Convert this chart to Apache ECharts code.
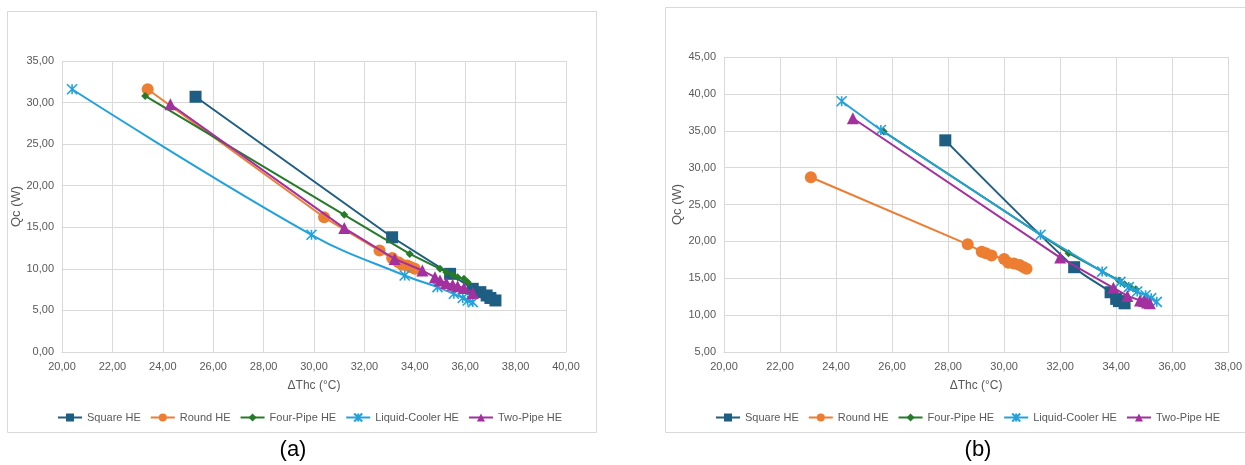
<!DOCTYPE html>
<html>
<head>
<meta charset="utf-8">
<script src="https://cdn.jsdelivr.net/npm/echarts@6/dist/echarts.min.js"></script>
<style>html,body{margin:0;padding:0;background:#fff}#c{width:1245px;height:465px}</style>
</head>
<body>
<div id="c"></div>
<script>
// ---- Data: panel (a) ----
const seriesNames = ['Square HE', 'Round HE', 'Four-Pipe HE', 'Liquid-Cooler HE', 'Two-Pipe HE'];
const aSquare = [[25.3,30.7],[33.1,13.8],[35.4,9.4],[36.3,7.6],[36.6,7.2],[36.85,6.8],[37.0,6.5],[37.2,6.2]];
const aRound = [[23.4,31.6],[30.4,16.2],[32.6,12.2],[33.1,11.3],[33.35,10.8],[33.5,10.5],[33.7,10.4],[33.85,10.2],[34.0,10.0]];
const aFourPipe = [[23.3,30.8],[31.2,16.5],[33.8,11.8],[35.0,10.0],[35.25,9.6],[35.5,9.3],[35.7,9.0],[35.95,8.8],[36.1,8.4]];
const aLiquid = [[20.4,31.6],[29.9,14.1],[33.6,9.2],[34.9,7.8],[35.55,7.0],[35.9,6.5],[36.1,6.2],[36.3,6.0]];
const aTwoPipe = [[24.3,29.8],[31.2,14.9],[33.2,11.2],[34.3,9.8],[34.8,9.0],[35.0,8.6],[35.25,8.3],[35.5,8.1],[35.7,7.9],[35.95,7.7],[36.3,7.1]];
// ---- Data: panel (b) ----
const bSquare = [[27.9,33.7],[32.5,16.5],[33.8,13.1],[34.0,12.2],[34.1,11.9],[34.3,11.6]];
const bRound = [[23.1,28.7],[28.7,19.6],[29.2,18.6],[29.35,18.4],[29.55,18.1],[30.0,17.6],[30.15,17.1],[30.35,17.0],[30.55,16.8],[30.7,16.5],[30.8,16.3]];
const bFourPipe = [[25.7,34.9],[32.3,18.4],[34.1,14.7],[34.3,14.2],[34.5,13.8],[34.7,13.5]];
const bLiquid = [[24.2,39.0],[25.6,35.1],[31.3,20.9],[33.5,15.9],[34.15,14.5],[34.45,13.8],[34.75,13.2],[35.05,12.7],[35.25,12.3],[35.45,11.8]];
const bTwoPipe = [[24.6,36.7],[32.0,17.8],[33.9,13.7],[34.4,12.6],[34.85,12.0],[35.0,11.9],[35.1,11.7],[35.2,11.6]];
// ---- Axis ticks ----
const aX = {min: 20, max: 40, interval: 2};
const aY = {min: 0, max: 35, interval: 5};
const bX = {min: 20, max: 38, interval: 2};
const bY = {min: 5, max: 45, interval: 5};
const xTitle = 'ΔThc (°C)';
const yTitle = 'Qc (W)';

const colors = ['#1F5E83', '#ED7D31', '#267A2A', '#22A2DC', '#A3309E'];
const asterisk = 'path://M0,0L10,10M10,0L0,10M5,0L5,10';
const symbols = ['rect', 'circle', 'diamond', asterisk, 'triangle'];
const sizes = [12, 12, 8, 10, 12];
const font = 'Liberation Sans, Arial, sans-serif';
const fmt = v => v.toFixed(2).replace('.', ',');

function mkSeries(data, i, gi, smooth) {
  const s = {
    name: seriesNames[i], type: 'line', xAxisIndex: gi, yAxisIndex: gi,
    data: data, symbol: symbols[i], symbolSize: sizes[i], smooth: smooth || false,
    lineStyle: {color: colors[i], width: 2}, itemStyle: {color: colors[i]},
    emphasis: {disabled: true}, animation: false, z: 2 + i
  };
  if (i === 3) s.itemStyle = {color: colors[i], borderColor: colors[i], borderWidth: 1.6};
  return s;
}
function xAxis(gi, t) {
  return {type: 'value', gridIndex: gi, min: t.min, max: t.max, interval: t.interval,
    name: xTitle, nameLocation: 'middle', nameGap: 28,
    nameTextStyle: {color: '#595959', fontSize: 12, fontFamily: font},
    axisLine: {show: true, onZero: false, lineStyle: {color: '#D9D9D9'}}, axisTick: {show: false},
    axisLabel: {color: '#595959', fontSize: 11, fontFamily: font, formatter: fmt, margin: 9},
    splitLine: {show: true, lineStyle: {color: '#D9D9D9', width: 1}}};
}
function yAxis(gi, t, gap) {
  return {type: 'value', gridIndex: gi, min: t.min, max: t.max, interval: t.interval,
    name: yTitle, nameLocation: 'middle', nameGap: gap, nameRotate: 90,
    nameTextStyle: {color: '#595959', fontSize: 13, fontFamily: font},
    axisLine: {show: false}, axisTick: {show: false},
    axisLabel: {color: '#595959', fontSize: 11, fontFamily: font, formatter: fmt, margin: 8},
    splitLine: {show: true, lineStyle: {color: '#D9D9D9', width: 1}}};
}
const legendBase = {orient: 'horizontal', itemWidth: 24, itemHeight: 10, itemGap: 9,
  textStyle: {color: '#595959', fontSize: 11, fontFamily: font}, data: seriesNames, selectedMode: false};

const chart = echarts.init(document.getElementById('c'), null, {renderer: 'canvas'});
chart.setOption({
  backgroundColor: '#fff',
  animation: false,
  graphic: [
    {type: 'rect', shape: {x: 7.5, y: 11.5, width: 589, height: 421}, style: {fill: 'none', stroke: '#D9D9D9', lineWidth: 1}, z: -1},
    {type: 'rect', shape: {x: 665.5, y: 7.5, width: 600, height: 425}, style: {fill: 'none', stroke: '#D9D9D9', lineWidth: 1}, z: -1},
    {type: 'text', x: 293, y: 450, style: {text: '(a)', fill: '#000', font: '22px ' + font, textAlign: 'center', textVerticalAlign: 'middle'}},
    {type: 'text', x: 978, y: 450, style: {text: '(b)', fill: '#000', font: '22px ' + font, textAlign: 'center', textVerticalAlign: 'middle'}}
  ],
  grid: [
    {left: 62, width: 504, top: 61, height: 291, containLabel: false},
    {left: 724, width: 505, top: 57, height: 295, containLabel: false}
  ],
  xAxis: [xAxis(0, aX), xAxis(1, bX)],
  yAxis: [yAxis(0, aY, 37), yAxis(1, bY, 40)],
  legend: [
    Object.assign({}, legendBase, {top: 407, left: 52}),
    Object.assign({}, legendBase, {top: 407, left: 710})
  ],
  series: [
    mkSeries(aSquare, 0, 0), mkSeries(aRound, 1, 0), mkSeries(aFourPipe, 2, 0),
    mkSeries(aLiquid, 3, 0, 0.4), mkSeries(aTwoPipe, 4, 0),
    mkSeries(bSquare, 0, 1, 0.3), mkSeries(bRound, 1, 1), mkSeries(bFourPipe, 2, 1),
    mkSeries(bLiquid, 3, 1), mkSeries(bTwoPipe, 4, 1)
  ]
});
</script>
</body>
</html>
